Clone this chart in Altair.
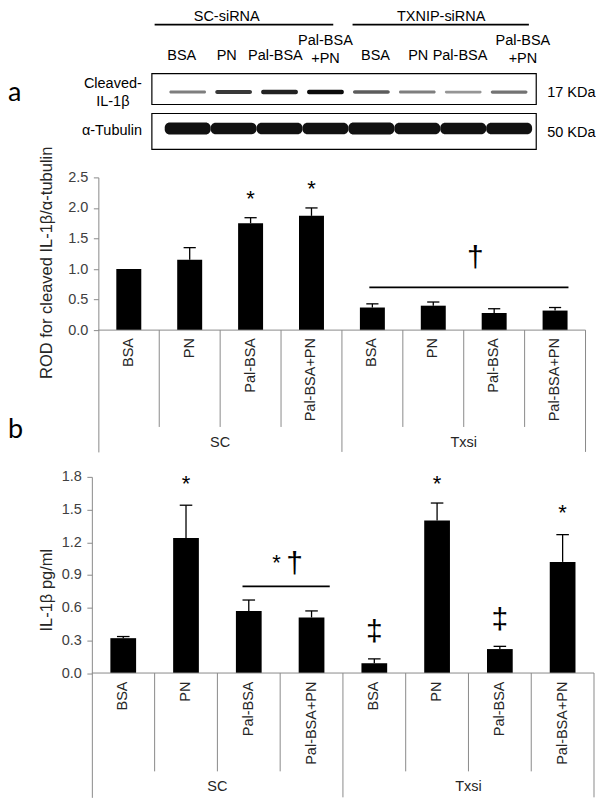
import altair as alt
import pandas as pd

# ---------------- data ----------------
treatments = ["BSA", "PN", "Pal-BSA", "Pal-BSA+PN"]
groups = ["SC", "Txsi"]
blot_groups = ["SC-siRNA", "TXNIP-siRNA"]
lane_labels = ["BSA", "PN", "Pal-BSA", "Pal-BSA\n+PN", "BSA", "PN", "Pal-BSA", "Pal-BSA\n+PN"]
cleaved_il1b_band = [0.45, 0.75, 0.85, 0.95, 0.60, 0.45, 0.35, 0.50]
tubulin_band = [1.00, 0.95, 0.95, 0.95, 1.00, 0.95, 0.95, 0.95]

rod_mean = [1.00, 1.15, 1.75, 1.87, 0.37, 0.40, 0.28, 0.32]
rod_sem = [0.00, 0.20, 0.09, 0.13, 0.06, 0.06, 0.07, 0.05]
il1b_mean = [0.32, 1.24, 0.57, 0.51, 0.09, 1.40, 0.22, 1.02]
il1b_sem = [0.015, 0.30, 0.10, 0.06, 0.04, 0.16, 0.025, 0.25]

rod_marks_text = ["*", "*", "†"]
rod_marks_x = [2.5, 3.5, 6.19]
rod_marks_y = [2.03, 2.19, 1.03]
rod_bracket = [4.45, 7.72, 0.70]

il1b_marks_text = ["*", "*", "*", "*", "†", "‡", "‡"]
il1b_marks_x = [1.5, 5.5, 7.5, 2.94, 3.23, 4.5, 6.5]
il1b_marks_y = [1.672, 1.672, 1.40, 0.948, 0.92, 0.29, 0.40]
il1b_bracket = [2.40, 3.79, 0.795]

FONT = "Liberation Sans"
LABEL_FONT = "Lato"
GRAY = "#8a8a8a"
TXT = "#262626"
FS = 14.5

cat_df = pd.DataFrame({
    "idx": list(range(8)),
    "label": treatments * 2,
})

# ---------------- blot panel ----------------
BX = alt.Scale(domain=[-2.087, 8.848], nice=False, zero=False)
BY = alt.Scale(domain=[0, 144], reverse=True, nice=False, zero=False)


def bx(f):
    return alt.X(f, type="quantitative", scale=BX, axis=None)


def by(f):
    return alt.Y(f, type="quantitative", scale=BY, axis=None)


lane_df = pd.DataFrame({
    "lane": list(range(8)),
    "label": lane_labels,
    "il": cleaved_il1b_band,
    "tub": tubulin_band,
})
# layout of the lane captions (where they sit above the blot)
lane_df["lx"] = [-0.13, 0.85, 1.91, 3.0, 4.09, 5.02, 5.93, 7.3]
lane_df["ly"] = [32 if "\n" in s else 47 for s in lane_labels]

head_df = pd.DataFrame({"t": blot_groups, "x": [0.85, 5.52], "y": [1.5, 1.5],
                        "x1": [-0.72, 3.59], "x2": [3.17, 7.43], "ly": [16, 16]})
heads = alt.Chart(head_df).mark_text(font=FONT, fontSize=FS, baseline="top", align="center", color="black").encode(
    x=bx("x"), y=by("y"), text="t:N")
head_lines = alt.Chart(head_df).mark_rule(color="black", strokeWidth=1.8).encode(
    x=bx("x1"), x2="x2:Q", y=by("ly"))

lane_text = alt.Chart(lane_df).mark_text(
    font=FONT, fontSize=FS, baseline="middle", align="center", lineBreak="\n", lineHeight=18, color="black"
).encode(x=bx("lx"), y=by("ly"), text="label:N")

row_df = pd.DataFrame({"t": ["Cleaved-\nIL-1β", "α-Tubulin"], "x": [-1.63, -1.65], "y": [75, 123]})
row_text = alt.Chart(row_df).mark_text(font=FONT, fontSize=FS, baseline="middle", align="center",
                                       lineBreak="\n", lineHeight=19, color="black").encode(
    x=bx("x"), y=by("y"), text="t:N")

box_df = pd.DataFrame({"x1": [-0.78, -0.78], "x2": [7.59, 7.59], "y1": [65, 105], "y2": [96, 141]})
boxes = alt.Chart(box_df).mark_rect(fill="white", stroke="black", strokeWidth=1.2).encode(
    x=bx("x1"), x2="x2:Q", y=by("y1"), y2="y2:Q")

il_bands = alt.Chart(lane_df).transform_calculate(
    x1="datum.lane-0.40", x2="datum.lane+0.40",
    y1="83.5-(0.8+1.6*datum.il)", y2="83.5+(0.8+1.6*datum.il)"
).mark_rect(color="black", cornerRadius=2).encode(
    x=bx("x1"), x2="x2:Q", y=by("y1"), y2="y2:Q",
    opacity=alt.Opacity("il:Q", scale=alt.Scale(domain=[0, 1], range=[0.1, 1]), legend=None))

tub_bands = alt.Chart(lane_df).transform_calculate(
    x1="datum.lane-0.5", x2="datum.lane+0.5", y1="120-6*datum.tub", y2="120+6*datum.tub"
).mark_rect(color="#111111", cornerRadius=5).encode(
    x=bx("x1"), x2="x2:Q", y=by("y1"), y2="y2:Q")

kda_df = pd.DataFrame({"t": ["17 KDa", "50 KDa"], "x": [7.83, 7.83], "y": [84, 125]})
kda = alt.Chart(kda_df).mark_text(font=FONT, fontSize=FS, baseline="middle", align="left", color="black").encode(
    x=bx("x"), y=by("y"), text="t:N")

a_df = pd.DataFrame({"t": ["a"], "x": [-3.913], "y": [92]})
a_lab = alt.Chart(a_df).mark_text(font=LABEL_FONT, fontSize=27, baseline="alphabetic", align="left", color="black").encode(
    x=bx("x"), y=by("y"), text="t:N")

blot = alt.layer(boxes, il_bands, tub_bands, heads, head_lines, lane_text, row_text, kda, a_lab).properties(
    width=503, height=144)


# ---------------- bar panels ----------------
def bar_panel(mean, sem, xdom, ydom, width, height, ticks, ytitle, ax_offset, title_x, title_y,
              inner_end, label_y, group_y, mtext, mx, my, bracket, extra=None):
    X = alt.Scale(domain=xdom, nice=False, zero=False)
    Y = alt.Scale(domain=ydom, nice=False, zero=False)
    yaxis = alt.Axis(values=ticks, format=".1f", offset=ax_offset, title=ytitle, titleX=title_x, titleY=title_y,
                     titleAngle=270, titleAlign="center", titleBaseline="middle", titleFont=FONT,
                     titleFontSize=16.5, titleFontWeight="normal", titleColor=TXT,
                     labelFont=FONT, labelFontSize=FS, labelColor="#404040", labelPadding=5.5,
                     tickSize=5, tickColor=GRAY, domainColor=GRAY, grid=False)

    def ex(f):
        return alt.X(f, type="quantitative", scale=X, axis=None)

    def ey(f):
        return alt.Y(f, type="quantitative", scale=Y, axis=yaxis)

    df = cat_df.assign(mean=mean, sem=sem)
    bars = alt.Chart(df).transform_calculate(x1="datum.idx+0.295", x2="datum.idx+0.705").mark_bar(
        color="black").encode(x=ex("x1"), x2="x2:Q", y=ey("mean"), y2=alt.datum(0))
    err = alt.Chart(df).transform_filter("datum.sem > 0").transform_calculate(
        xc="datum.idx+0.5", top="datum.mean+datum.sem").mark_rule(color="black", strokeWidth=1.3).encode(
        x=ex("xc"), y=ey("mean"), y2="top:Q")
    cap = alt.Chart(df).transform_filter("datum.sem > 0").transform_calculate(
        c1="datum.idx+0.4", c2="datum.idx+0.6", top="datum.mean+datum.sem").mark_rule(
        color="black", strokeWidth=1.3).encode(x=ex("c1"), x2="c2:Q", y=ey("top"))

    base_df = pd.DataFrame({"x1": [0], "x2": [8], "y": [0]})
    baseline = alt.Chart(base_df).mark_rule(color=GRAY, strokeWidth=1).encode(x=ex("x1"), x2="x2:Q", y=ey("y"))
    div_df = pd.DataFrame({"b": list(range(1, 9))})
    div_df["end"] = [ydom[0] if b in (4, 8) else inner_end for b in div_df["b"]]
    div_df["zero"] = 0
    dividers = alt.Chart(div_df).mark_rule(color=GRAY, strokeWidth=1).encode(x=ex("b"), y=ey("zero"), y2="end:Q")

    cat_text = alt.Chart(df).transform_calculate(xc="datum.idx+0.5", ly=str(label_y)).mark_text(
        font=FONT, fontSize=FS, angle=270, align="right", baseline="middle", color=TXT).encode(
        x=ex("xc"), y=ey("ly"), text="label:N")
    grp_df = pd.DataFrame({"g": groups, "x": [2, 6], "y": [group_y, group_y]})
    grp_text = alt.Chart(grp_df).mark_text(font=FONT, fontSize=FS, align="center", baseline="middle",
                                           color=TXT).encode(x=ex("x"), y=ey("y"), text="g:N")
    mk_df = pd.DataFrame({"t": mtext, "x": mx, "y": my})
    mk_df["size"] = [22 if t == "*" else 30 for t in mtext]
    marks = alt.Chart(mk_df).mark_text(font=FONT, align="center", baseline="alphabetic",
                                       color="black").encode(
        x=ex("x"), y=ey("y"), text="t:N",
        size=alt.Size("size:Q", scale=None, legend=None))
    br_df = pd.DataFrame({"x1": [bracket[0]], "x2": [bracket[1]], "y": [bracket[2]]})
    br = alt.Chart(br_df).mark_rule(color="black", strokeWidth=1.6).encode(x=ex("x1"), x2="x2:Q", y=ey("y"))
    layers = [bars, err, cap, baseline, dividers, cat_text, grp_text, marks, br]
    if extra is not None:
        e_df = pd.DataFrame({"t": [extra[0]], "x": [extra[1]], "y": [extra[2]]})
        layers.append(alt.Chart(e_df).mark_text(font=LABEL_FONT, fontSize=27, align="left", baseline="alphabetic",
                                                color="black").encode(x=ex("x"), y=ey("y"), text="t:N"))
    return alt.layer(*layers).properties(width=width, height=height)


chart_a = bar_panel(rod_mean, rod_sem, [-0.1066, 8], [-1.9935, 2.5], 494.5, 275,
                    [0, 0.5, 1.0, 1.5, 2.0, 2.5], "ROD for cleaved IL-1β/α-tubulin", -6.5, -51.5, 85,
                    -1.585, -0.13, -1.846, rod_marks_text, rod_marks_x, rod_marks_y, rod_bracket,
                    extra=("b", -1.4836, -1.765))

chart_b = bar_panel(il1b_mean, il1b_sem, [0, 8], [-1.1404, 1.8], 503, 321,
                    [0, 0.3, 0.6, 0.9, 1.2, 1.5, 1.8], "IL-1β pg/ml", 0, -45, 113,
                    -0.902, -0.078, -1.047, il1b_marks_text, il1b_marks_x, il1b_marks_y, il1b_bracket)

chart = alt.vconcat(blot, chart_a, chart_b, spacing=25, bounds="flush").properties(
    padding=0, background="white"
).configure_view(stroke=None)

chart.save("out.html", embed_options={"renderer": "svg", "actions": False})
